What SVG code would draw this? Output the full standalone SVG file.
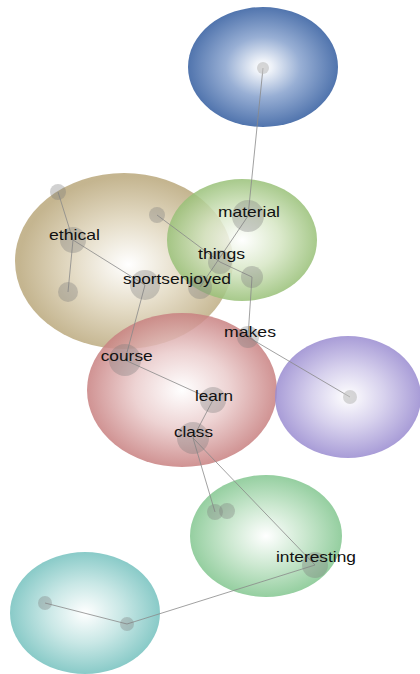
<svg xmlns="http://www.w3.org/2000/svg" width="420" height="674" viewBox="0 0 420 674">
<defs>
<radialGradient id="gBlue" cx="50%" cy="50%" r="50%"><stop offset="0" stop-color="#ffffff"/><stop offset="0.12" stop-color="#eaeff7"/><stop offset="0.5" stop-color="#86a1cd"/><stop offset="1" stop-color="#325c9f"/></radialGradient>
<radialGradient id="gTan" cx="52%" cy="52%" r="50%"><stop offset="0" stop-color="#ffffff"/><stop offset="0.5" stop-color="#e0d6bd"/><stop offset="1" stop-color="#baa87c"/></radialGradient>
<radialGradient id="gGreenTop" cx="50%" cy="50%" r="50%"><stop offset="0" stop-color="#ffffff"/><stop offset="0.5" stop-color="#d6e6c4"/><stop offset="1" stop-color="#98c077"/></radialGradient>
<radialGradient id="gRed" cx="50%" cy="50%" r="50%"><stop offset="0" stop-color="#ffffff"/><stop offset="0.5" stop-color="#eacbcb"/><stop offset="1" stop-color="#c88080"/></radialGradient>
<radialGradient id="gPurple" cx="50%" cy="50%" r="50%"><stop offset="0" stop-color="#ffffff"/><stop offset="0.5" stop-color="#d0c9ea"/><stop offset="1" stop-color="#998bd0"/></radialGradient>
<radialGradient id="gGreenBot" cx="50%" cy="50%" r="50%"><stop offset="0" stop-color="#ffffff"/><stop offset="0.5" stop-color="#c3e4c8"/><stop offset="1" stop-color="#82c68f"/></radialGradient>
<radialGradient id="gTeal" cx="50%" cy="50%" r="50%"><stop offset="0" stop-color="#ffffff"/><stop offset="0.5" stop-color="#bfe3e1"/><stop offset="1" stop-color="#74c1be"/></radialGradient>
</defs>
<style>
.cl{opacity:0.85}
.e{stroke:#8a8a8a;stroke-width:1;stroke-opacity:0.8;fill:none}
.n{fill:#7a7a7a;fill-opacity:0.35}
.nl{fill:#bdbdbd;fill-opacity:0.6}
.t{font-family:"Liberation Sans",Arial,sans-serif;font-size:14.5px;fill:#111;text-anchor:middle}
</style>
<g id="clusters">
<ellipse id="c-blue" class="cl" cx="263" cy="67" rx="75" ry="60" fill="url(#gBlue)"/>
<ellipse id="c-tan" class="cl" cx="124" cy="261" rx="109" ry="88" fill="url(#gTan)"/>
<ellipse id="c-greentop" class="cl" cx="242" cy="240" rx="75" ry="61" fill="url(#gGreenTop)"/>
<ellipse id="c-red" class="cl" cx="182" cy="390" rx="95" ry="77" fill="url(#gRed)"/>
<ellipse id="c-purple" class="cl" cx="348" cy="397" rx="73" ry="61" fill="url(#gPurple)"/>
<ellipse id="c-greenbot" class="cl" cx="266" cy="536" rx="76" ry="61" fill="url(#gGreenBot)"/>
<ellipse id="c-teal" class="cl" cx="85" cy="613" rx="75" ry="61" fill="url(#gTeal)"/>
</g>
<g id="connectors">
<line class="e" x1="263" y1="68" x2="248" y2="216"/>
<line class="e" x1="248" y1="216" x2="200" y2="287"/>
<line class="e" x1="58" y1="192" x2="73" y2="240"/>
<line class="e" x1="73" y1="240" x2="68" y2="292"/>
<line class="e" x1="73" y1="240" x2="145" y2="285"/>
<line class="e" x1="157" y1="215" x2="220" y2="262"/>
<line class="e" x1="220" y1="262" x2="252" y2="277"/>
<line class="e" x1="252" y1="277" x2="248" y2="337"/>
<line class="e" x1="248" y1="337" x2="350" y2="397"/>
<line class="e" x1="145" y1="285" x2="125" y2="360"/>
<line class="e" x1="125" y1="360" x2="213" y2="400"/>
<line class="e" x1="213" y1="400" x2="193" y2="438"/>
<line class="e" x1="193" y1="438" x2="215" y2="512"/>
<line class="e" x1="193" y1="438" x2="315" y2="565"/>
<line class="e" x1="315" y1="565" x2="127" y2="624"/>
<line class="e" x1="127" y1="624" x2="45" y2="603"/>
</g>
<g id="node-blue"><circle class="nl" cx="263" cy="68" r="6"/></g>
<g id="node-n1"><circle class="n" cx="58" cy="192" r="8"/></g>
<g id="node-ethical"><circle class="n" cx="73" cy="240" r="13"/><text class="t" x="74.5" y="240" textLength="51" lengthAdjust="spacingAndGlyphs">ethical</text></g>
<g id="node-n2"><circle class="n" cx="68" cy="292" r="10"/></g>
<g id="node-n3"><circle class="n" cx="157" cy="215" r="8"/></g>
<g id="node-material"><circle class="n" cx="248" cy="216" r="16"/><text class="t" x="249" y="217" textLength="62" lengthAdjust="spacingAndGlyphs">material</text></g>
<g id="node-things"><circle class="n" cx="220" cy="262" r="12"/><text class="t" x="221.5" y="259" textLength="47" lengthAdjust="spacingAndGlyphs">things</text></g>
<g id="node-enjoyed"><circle class="n" cx="200" cy="287" r="12"/><text class="t" x="200.5" y="284" textLength="61" lengthAdjust="spacingAndGlyphs">enjoyed</text></g>
<g id="node-n4"><circle class="n" cx="252" cy="277" r="11"/></g>
<g id="node-sports"><circle class="n" cx="145" cy="285" r="15"/><text class="t" x="146.5" y="284" textLength="47" lengthAdjust="spacingAndGlyphs">sports</text></g>
<g id="node-course"><circle class="n" cx="125" cy="360" r="16"/><text class="t" x="126.7" y="361" textLength="52" lengthAdjust="spacingAndGlyphs">course</text></g>
<g id="node-makes"><circle class="n" cx="248" cy="337" r="11"/><text class="t" x="250" y="337" textLength="52" lengthAdjust="spacingAndGlyphs">makes</text></g>
<g id="node-learn"><circle class="n" cx="213" cy="400" r="13"/><text class="t" x="214" y="401" textLength="38" lengthAdjust="spacingAndGlyphs">learn</text></g>
<g id="node-class"><circle class="n" cx="193" cy="438" r="16"/><text class="t" x="193.5" y="437" textLength="39" lengthAdjust="spacingAndGlyphs">class</text></g>
<g id="node-purple"><circle class="nl" cx="350" cy="397" r="7"/></g>
<g id="node-g1"><circle class="n" cx="215" cy="512" r="8"/></g>
<g id="node-g2"><circle class="n" cx="227" cy="511" r="8"/></g>
<g id="node-interesting"><circle class="n" cx="315" cy="565" r="13"/><text class="t" x="316" y="562" textLength="80" lengthAdjust="spacingAndGlyphs">interesting</text></g>
<g id="node-t1"><circle class="n" cx="45" cy="603" r="7"/></g>
<g id="node-t2"><circle class="n" cx="127" cy="624" r="7"/></g>
</svg>
